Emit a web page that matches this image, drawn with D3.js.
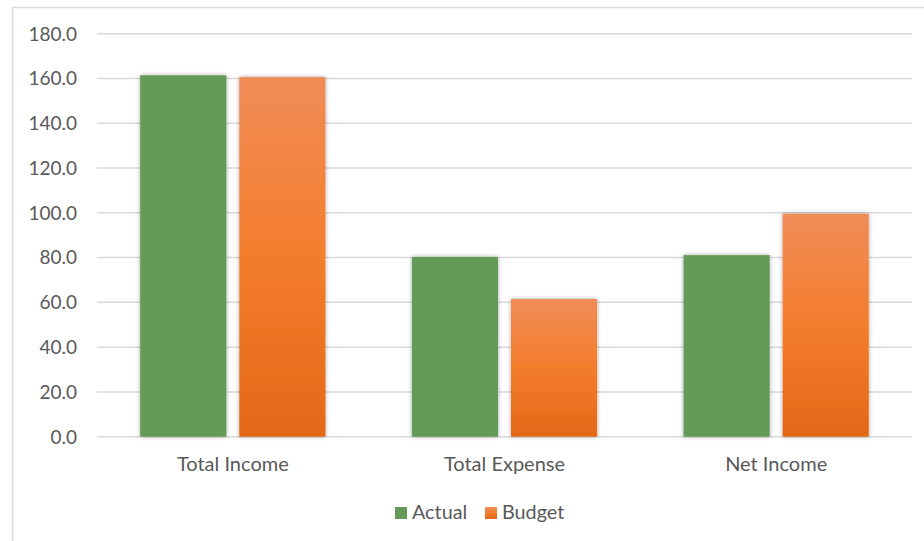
<!DOCTYPE html>
<html>
<head>
<meta charset="utf-8">
<script src="https://cdn.jsdelivr.net/npm/d3@7"></script>
<style>
  body { margin: 0; background: #fff; }
  text { font-family: Lato, "Open Sans", sans-serif; fill: #595959; }
</style>
</head>
<body>
<div id="chart"></div>
<script>
// values
const categories = ["Total Income", "Total Expense", "Net Income"];
const seriesNames = ["Actual", "Budget"];
const actual = [161.4, 80.3, 81.1];
const budget = [160.6, 61.5, 99.6];
const yTicks = [0, 20, 40, 60, 80, 100, 120, 140, 160, 180];

const width = 924;
const height = 541;

const svg = d3.select("#chart")
  .append("svg")
  .attr("width", width)
  .attr("height", height);

const defs = svg.append("defs");

const grad = defs.append("linearGradient")
  .attr("id", "orangeGrad")
  .attr("x1", 0).attr("y1", 0).attr("x2", 0).attr("y2", 1);
grad.append("stop").attr("offset", "0%").attr("stop-color", "#F08C57");
grad.append("stop").attr("offset", "50%").attr("stop-color", "#F47D2C");
grad.append("stop").attr("offset", "100%").attr("stop-color", "#E36818");

const shadow = defs.append("filter")
  .attr("id", "shadow")
  .attr("x", "-20%").attr("y", "-10%")
  .attr("width", "140%").attr("height", "120%");
shadow.append("feDropShadow")
  .attr("dx", 0).attr("dy", 0)
  .attr("stdDeviation", 2)
  .attr("flood-color", "#000")
  .attr("flood-opacity", 0.35);

// chart area border
svg.append("rect")
  .attr("x", 12.5).attr("y", 7.5)
  .attr("width", width + 10).attr("height", height + 10)
  .attr("fill", "none")
  .attr("stroke", "#D9D9D9")
  .attr("stroke-width", 1.5);

const plot = { left: 97, right: 912, top: 33.7, bottom: 436.7 };

const y = d3.scaleLinear().domain([0, 180]).range([plot.bottom, plot.top]);

const x0 = d3.scaleBand()
  .domain(categories)
  .range([plot.left, plot.right])
  .padding(0);

const x1 = d3.scaleBand()
  .domain(seriesNames)
  .range([0, x0.bandwidth()])
  .paddingInner(0.131)
  .paddingOuter(0.436);

// gridlines
svg.append("g")
  .selectAll("line")
  .data(yTicks)
  .enter()
  .append("line")
  .attr("x1", plot.left)
  .attr("x2", plot.right)
  .attr("y1", d => y(d))
  .attr("y2", d => y(d))
  .attr("stroke", "#D9D9D9")
  .attr("stroke-width", 1.5);

// y labels
svg.append("g")
  .selectAll("text")
  .data(yTicks)
  .enter()
  .append("text")
  .attr("x", 77)
  .attr("y", d => y(d))
  .attr("dy", "0.36em")
  .attr("text-anchor", "end")
  .style("font-size", "19px")
  .text(d => d3.format(".1f")(d));

const rows = categories.map((c, i) => ({ cat: c, values: [actual[i], budget[i]] }));
const fills = ["#649A58", "url(#orangeGrad)"];

const groups = svg.append("g")
  .selectAll("g")
  .data(rows)
  .enter()
  .append("g")
  .attr("transform", d => `translate(${x0(d.cat)},0)`);

groups.selectAll("rect")
  .data(d => d.values.map((v, j) => ({ name: seriesNames[j], v: v, j: j })))
  .enter()
  .append("rect")
  .attr("x", d => x1(d.name))
  .attr("width", x1.bandwidth())
  .attr("y", d => y(d.v))
  .attr("height", d => y(0) - y(d.v))
  .attr("fill", d => fills[d.j])
  .attr("filter", "url(#shadow)");

// category labels
svg.append("g")
  .selectAll("text")
  .data(categories)
  .enter()
  .append("text")
  .attr("x", d => x0(d) + x0.bandwidth() / 2)
  .attr("y", 471)
  .attr("text-anchor", "middle")
  .style("font-size", "20px")
  .text(d => d);

// legend
const legendColors = ["#649A58", "url(#orangeGrad)"];
const legendX = [395, 485];
const legend = svg.append("g");
seriesNames.forEach((s, i) => {
  legend.append("rect")
    .attr("x", legendX[i]).attr("y", 507)
    .attr("width", 12).attr("height", 12)
    .attr("fill", legendColors[i]);
  legend.append("text")
    .attr("x", legendX[i] + 17)
    .attr("y", 519)
    .style("font-size", "19.8px")
    .text(s);
});
</script>
</body>
</html>
